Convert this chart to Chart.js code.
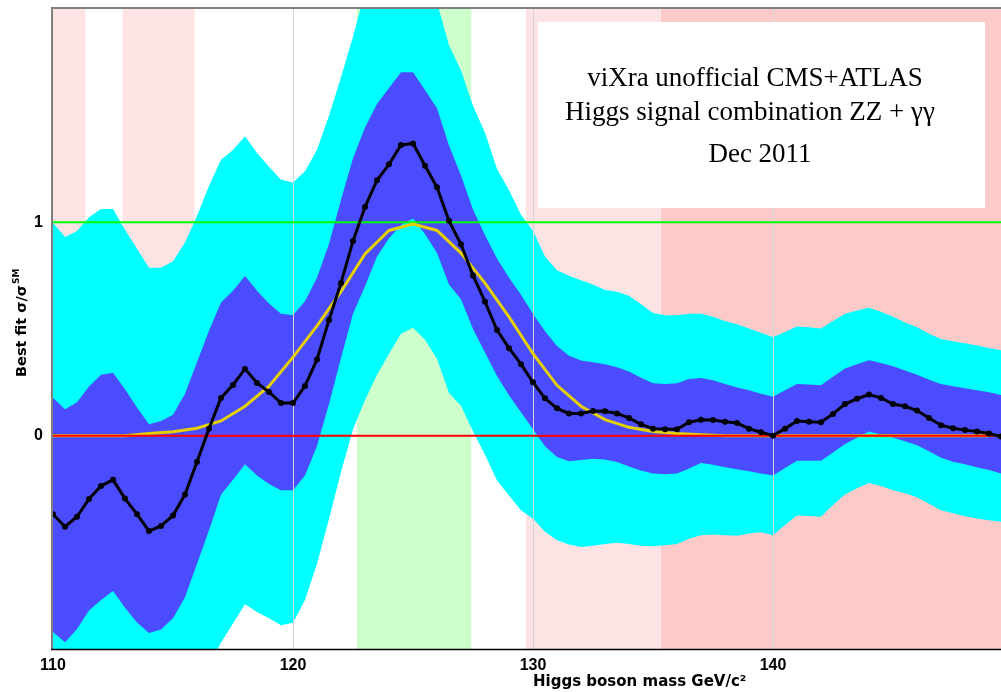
<!DOCTYPE html>
<html>
<head>
<meta charset="utf-8">
<script src="https://cdn.jsdelivr.net/npm/chart.js@4.4.1/dist/chart.umd.min.js"></script>
<style>
  html, body { margin: 0; padding: 0; background: #ffffff; overflow: hidden; }
  canvas { display: block; }
</style>
</head>
<body>
<canvas id="chart" width="1001" height="692"></canvas>
<script>
// Higgs boson mass points (GeV/c^2)
const masses = [
  110, 110.5, 111, 111.5, 112, 112.5, 113, 113.5, 114, 114.5,
  115, 115.5, 116, 116.5, 117, 117.5, 118, 118.5, 119, 119.5,
  120, 120.5, 121, 121.5, 122, 122.5, 123, 123.5, 124, 124.5,
  125, 125.5, 126, 126.5, 127, 127.5, 128, 128.5, 129, 129.5,
  130, 130.5, 131, 131.5, 132, 132.5, 133, 133.5, 134, 134.5,
  135, 135.5, 136, 136.5, 137, 137.5, 138, 138.5, 139, 139.5,
  140, 140.5, 141, 141.5, 142, 142.5, 143, 143.5, 144, 144.5,
  145, 145.5, 146, 146.5, 147, 147.5, 148, 148.5, 149, 149.5
];

// Combined best-fit signal strength sigma/sigma_SM
const bestFit = [
  -0.368, -0.427, -0.380, -0.297, -0.236, -0.207, -0.295, -0.368, -0.447, -0.423,
  -0.374, -0.276, -0.122, 0.033, 0.177, 0.238, 0.313, 0.247, 0.205, 0.153,
  0.153, 0.233, 0.357, 0.542, 0.716, 0.912, 1.072, 1.197, 1.272, 1.363,
  1.370, 1.265, 1.164, 1.007, 0.897, 0.751, 0.628, 0.495, 0.410, 0.335,
  0.250, 0.175, 0.128, 0.104, 0.104, 0.116, 0.114, 0.104, 0.083, 0.053,
  0.033, 0.030, 0.030, 0.063, 0.075, 0.073, 0.065, 0.059, 0.033, 0.016,
  0.000, 0.033, 0.069, 0.065, 0.063, 0.102, 0.148, 0.173, 0.193, 0.177,
  0.148, 0.138, 0.118, 0.083, 0.049, 0.035, 0.026, 0.020, 0.010, -0.004
];

// Two-sigma band, upper edge
const twoSigmaUp = [
  0.998, 0.931, 0.959, 1.024, 1.063, 1.063, 0.965, 0.876, 0.787, 0.787,
  0.817, 0.906, 1.030, 1.171, 1.293, 1.339, 1.404, 1.325, 1.260, 1.200,
  1.187, 1.240, 1.340, 1.500, 1.680, 1.870, 2.080, 2.250, 2.360, 2.420,
  2.420, 2.200, 2.030, 1.830, 1.712, 1.546, 1.420, 1.250, 1.150, 1.035,
  0.960, 0.840, 0.775, 0.750, 0.728, 0.709, 0.683, 0.675, 0.656, 0.616,
  0.575, 0.565, 0.565, 0.571, 0.571, 0.557, 0.537, 0.522, 0.502, 0.482,
  0.463, 0.486, 0.512, 0.508, 0.502, 0.537, 0.571, 0.587, 0.600, 0.581,
  0.557, 0.531, 0.508, 0.478, 0.453, 0.443, 0.433, 0.423, 0.411, 0.400
];

// Two-sigma band, lower edge
const twoSigmaLo = [
  -1.750, -1.800, -1.720, -1.620, -1.550, -1.500, -1.580, -1.650, -1.700, -1.680,
  -1.600, -1.450, -1.250, -1.080, -0.970, -0.880, -0.790, -0.827, -0.856, -0.889,
  -0.877, -0.770, -0.600, -0.390, -0.170, 0.030, 0.167, 0.285, 0.384, 0.478,
  0.506, 0.450, 0.360, 0.200, 0.140, 0.020, -0.090, -0.210, -0.280, -0.350,
  -0.390, -0.450, -0.490, -0.510, -0.522, -0.516, -0.508, -0.502, -0.508, -0.516,
  -0.518, -0.514, -0.508, -0.483, -0.467, -0.463, -0.467, -0.469, -0.459, -0.453,
  -0.467, -0.419, -0.374, -0.376, -0.380, -0.325, -0.276, -0.246, -0.222, -0.236,
  -0.256, -0.270, -0.289, -0.319, -0.350, -0.364, -0.378, -0.388, -0.396, -0.404
];

// One-sigma band, upper edge
const oneSigmaUp = [
  0.177, 0.124, 0.157, 0.230, 0.285, 0.295, 0.217, 0.132, 0.053, 0.069,
  0.098, 0.197, 0.344, 0.492, 0.624, 0.679, 0.748, 0.679, 0.620, 0.571,
  0.565, 0.630, 0.740, 0.900, 1.105, 1.300, 1.445, 1.555, 1.630, 1.703,
  1.703, 1.620, 1.535, 1.360, 1.220, 1.060, 0.940, 0.830, 0.740, 0.660,
  0.570, 0.490, 0.420, 0.375, 0.352, 0.344, 0.335, 0.321, 0.301, 0.272,
  0.246, 0.242, 0.246, 0.266, 0.270, 0.260, 0.242, 0.226, 0.213, 0.197,
  0.183, 0.213, 0.242, 0.240, 0.236, 0.276, 0.315, 0.335, 0.354, 0.341,
  0.325, 0.305, 0.285, 0.262, 0.242, 0.232, 0.222, 0.213, 0.203, 0.191
];

// One-sigma band, lower edge
const oneSigmaLo = [
  -0.920, -0.968, -0.906, -0.820, -0.770, -0.728, -0.807, -0.876, -0.925, -0.909,
  -0.856, -0.758, -0.600, -0.443, -0.276, -0.207, -0.134, -0.187, -0.226, -0.256,
  -0.256, -0.187, -0.049, 0.148, 0.364, 0.571, 0.700, 0.840, 0.925, 0.988,
  1.018, 0.945, 0.856, 0.709, 0.640, 0.500, 0.390, 0.280, 0.190, 0.110,
  0.030, -0.050, -0.100, -0.120, -0.114, -0.108, -0.112, -0.124, -0.144, -0.163,
  -0.177, -0.181, -0.177, -0.154, -0.128, -0.136, -0.148, -0.157, -0.167, -0.177,
  -0.187, -0.152, -0.118, -0.118, -0.118, -0.079, -0.039, -0.010, 0.020, 0.006,
  -0.010, -0.026, -0.045, -0.073, -0.104, -0.122, -0.134, -0.148, -0.161, -0.177
];

// Expected response for a 125 GeV Standard Model Higgs
const signalMasses = [
  110, 111, 112, 113, 114, 115, 116, 117, 118, 119,
  120, 121, 122, 123, 124, 125, 126, 127, 128, 129,
  130, 131, 132, 133, 134, 135, 136, 137, 138, 139,
  140, 141, 142, 143, 144, 145, 146, 147, 148, 149
];
const signalExpected = [
  0, 0, 0, 0, 0.010, 0.018, 0.035, 0.069, 0.138, 0.232,
  0.368, 0.515, 0.675, 0.852, 0.962, 0.992, 0.962, 0.856, 0.715, 0.557,
  0.384, 0.236, 0.138, 0.075, 0.039, 0.020, 0.010, 0.004, 0, 0,
  0, 0, 0, 0, 0, 0, 0, 0, 0, 0
];

// Mass windows shaded behind the curves
const weakExclusion = [[110, 111.35], [112.9, 115.9], [129.7, 135.33]];
const strongExclusion = [[135.33, 149.5]];
const signalRegion = [[122.66, 127.43]];

// Axis settings
const xRange = [110, 149.5];
const yRange = [-1, 2];
const xTicks = [110, 120, 130, 140];
const yTicks = [0, 1];

const titleLines = ['viXra unofficial CMS+ATLAS', 'Higgs signal combination ZZ + \u03b3\u03b3', 'Dec 2011'];

const pts = (xs, ys) => xs.map((x, i) => ({ x: x, y: ys[i] }));
const flat = (v) => [{ x: xRange[0], y: v }, { x: xRange[1], y: v }];

const COL = {
  cyan: '#00ffff',
  blue: '#4c4cff',
  pinkLight: '#fde3e3',
  pinkDark: '#fdcaca',
  green: '#ccffcc',
  grid: '#d4d4d4',
  yellow: '#e4d000',
  unity: '#00ff00',
  zero: '#ff0000'
};

const hidden = { borderWidth: 0, pointRadius: 0, fill: false, tension: 0 };

const backdrop = {
  id: 'backdrop',
  beforeDatasetsDraw(chart) {
    const { ctx, chartArea: a, scales: { x } } = chart;
    ctx.save();
    const paint = (list, color) => {
      ctx.fillStyle = color;
      list.forEach(([m0, m1]) => {
        const p0 = x.getPixelForValue(m0), p1 = x.getPixelForValue(m1);
        ctx.fillRect(p0, a.top, p1 - p0, a.bottom - a.top);
      });
    };
    paint(weakExclusion, COL.pinkLight);
    paint(strongExclusion, COL.pinkDark);
    paint(signalRegion, COL.green);
    ctx.restore();
  },
  afterDatasetDraw(chart, args) {
    // vertical grid sits above the bands, below the curves
    if (args.index !== 3) return;
    const { ctx, chartArea: a, scales: { x } } = chart;
    ctx.save();
    ctx.strokeStyle = COL.grid;
    ctx.lineWidth = 1;
    xTicks.forEach(v => {
      if (v === xRange[0]) return;
      const px = Math.round(x.getPixelForValue(v)) + 0.5;
      ctx.beginPath();
      ctx.moveTo(px, a.top);
      ctx.lineTo(px, a.bottom);
      ctx.stroke();
    });
    ctx.restore();
  }
};

const decorations = {
  id: 'decorations',
  afterDraw(chart) {
    const { ctx, chartArea: a } = chart;
    ctx.save();
    // frame
    ctx.strokeStyle = '#7f7f7f';
    ctx.lineWidth = 2;
    ctx.beginPath();
    ctx.moveTo(a.left - 1, a.bottom);
    ctx.lineTo(a.left - 1, a.top - 1);
    ctx.lineTo(a.right, a.top - 1);
    ctx.stroke();
    ctx.strokeStyle = '#000000';
    ctx.lineWidth = 1.5;
    ctx.beginPath();
    ctx.moveTo(a.left - 2, a.bottom + 0.5);
    ctx.lineTo(a.right, a.bottom + 0.5);
    ctx.stroke();

    // y axis title with superscript
    ctx.fillStyle = '#000000';
    ctx.save();
    ctx.translate(26, 377);
    ctx.rotate(-Math.PI / 2);
    ctx.textAlign = 'left';
    ctx.textBaseline = 'alphabetic';
    ctx.font = 'bold 14.5px "DejaVu Sans"';
    const main = 'Best fit \u03c3/\u03c3';
    ctx.fillText(main, 0, 0);
    const w = ctx.measureText(main).width;
    ctx.font = 'bold 9px "DejaVu Sans"';
    ctx.fillText('SM', w + 1, -7);
    ctx.restore();

    // x axis title
    ctx.font = 'bold 15px "DejaVu Sans"';
    ctx.textAlign = 'left';
    ctx.textBaseline = 'alphabetic';
    ctx.fillText('Higgs boson mass GeV/c\u00b2', 533, 686);

    // caption box
    const bx = 538, by = 22, bw = 447, bh = 186;
    ctx.fillStyle = '#ffffff';
    ctx.fillRect(bx, by, bw, bh);
    ctx.fillStyle = '#000000';
    ctx.font = '27px "Liberation Serif"';
    ctx.textAlign = 'center';
    ctx.fillText(titleLines[0], 755, 86);
    ctx.fillText(titleLines[1], 750, 120);
    ctx.fillText(titleLines[2], 760, 162);
    ctx.restore();
  }
};

new Chart(document.getElementById('chart'), {
  type: 'line',
  data: {
    datasets: [
      { label: '2 sigma low', data: pts(masses, twoSigmaLo), ...hidden, order: 10 },
      { label: '2 sigma', data: pts(masses, twoSigmaUp), ...hidden,
        fill: { target: 0 }, backgroundColor: COL.cyan, order: 9 },
      { label: '1 sigma low', data: pts(masses, oneSigmaLo), ...hidden, order: 8 },
      { label: '1 sigma', data: pts(masses, oneSigmaUp), ...hidden,
        fill: { target: 2 }, backgroundColor: COL.blue, order: 7 },
      { label: 'SM', data: flat(1), borderColor: COL.unity, borderWidth: 2,
        pointRadius: 0, fill: false, order: 5 },
      { label: 'expected', data: pts(signalMasses, signalExpected), borderColor: COL.yellow,
        borderWidth: 3, pointRadius: 0, fill: false, tension: 0, order: 4 },
      { label: 'zero', data: flat(0), borderColor: COL.zero, borderWidth: 2,
        pointRadius: 0, fill: false, order: 3 },
      { label: 'best fit', data: pts(masses, bestFit), borderColor: '#000000',
        borderWidth: 3, pointRadius: 3, pointBackgroundColor: '#000000',
        pointBorderWidth: 0, fill: false, tension: 0, order: 1 }
    ]
  },
  options: {
    responsive: false,
    animation: false,
    devicePixelRatio: 1,
    layout: { autoPadding: false, padding: { top: 9, right: 0, bottom: 0, left: 0 } },
    plugins: {
      legend: { display: false },
      tooltip: { enabled: false },
      filler: { propagate: false }
    },
    scales: {
      x: {
        type: 'linear',
        min: xRange[0],
        max: xRange[1],
        afterBuildTicks: s => { s.ticks = xTicks.map(v => ({ value: v })); },
        afterFit: s => { s.height = 43; s.paddingLeft = 0; s.paddingRight = 0; },
        grid: { display: false, drawTicks: false },
        border: { display: false },
        ticks: {
          autoSkip: false, maxRotation: 0, padding: 7, color: '#000000',
          font: { family: 'Liberation Sans', size: 16, weight: 'bold' },
          callback: v => String(v)
        }
      },
      y: {
        type: 'linear',
        min: yRange[0],
        max: yRange[1],
        afterBuildTicks: s => { s.ticks = yTicks.map(v => ({ value: v })); },
        afterFit: s => { s.width = 53; s.paddingTop = 0; s.paddingBottom = 0; },
        grid: { display: false, drawTicks: false },
        border: { display: false },
        ticks: {
          padding: 10, color: '#000000',
          font: { family: 'Liberation Sans', size: 16, weight: 'bold' },
          callback: v => String(v)
        }
      }
    }
  },
  plugins: [backdrop, decorations]
});
</script>
</body>
</html>
